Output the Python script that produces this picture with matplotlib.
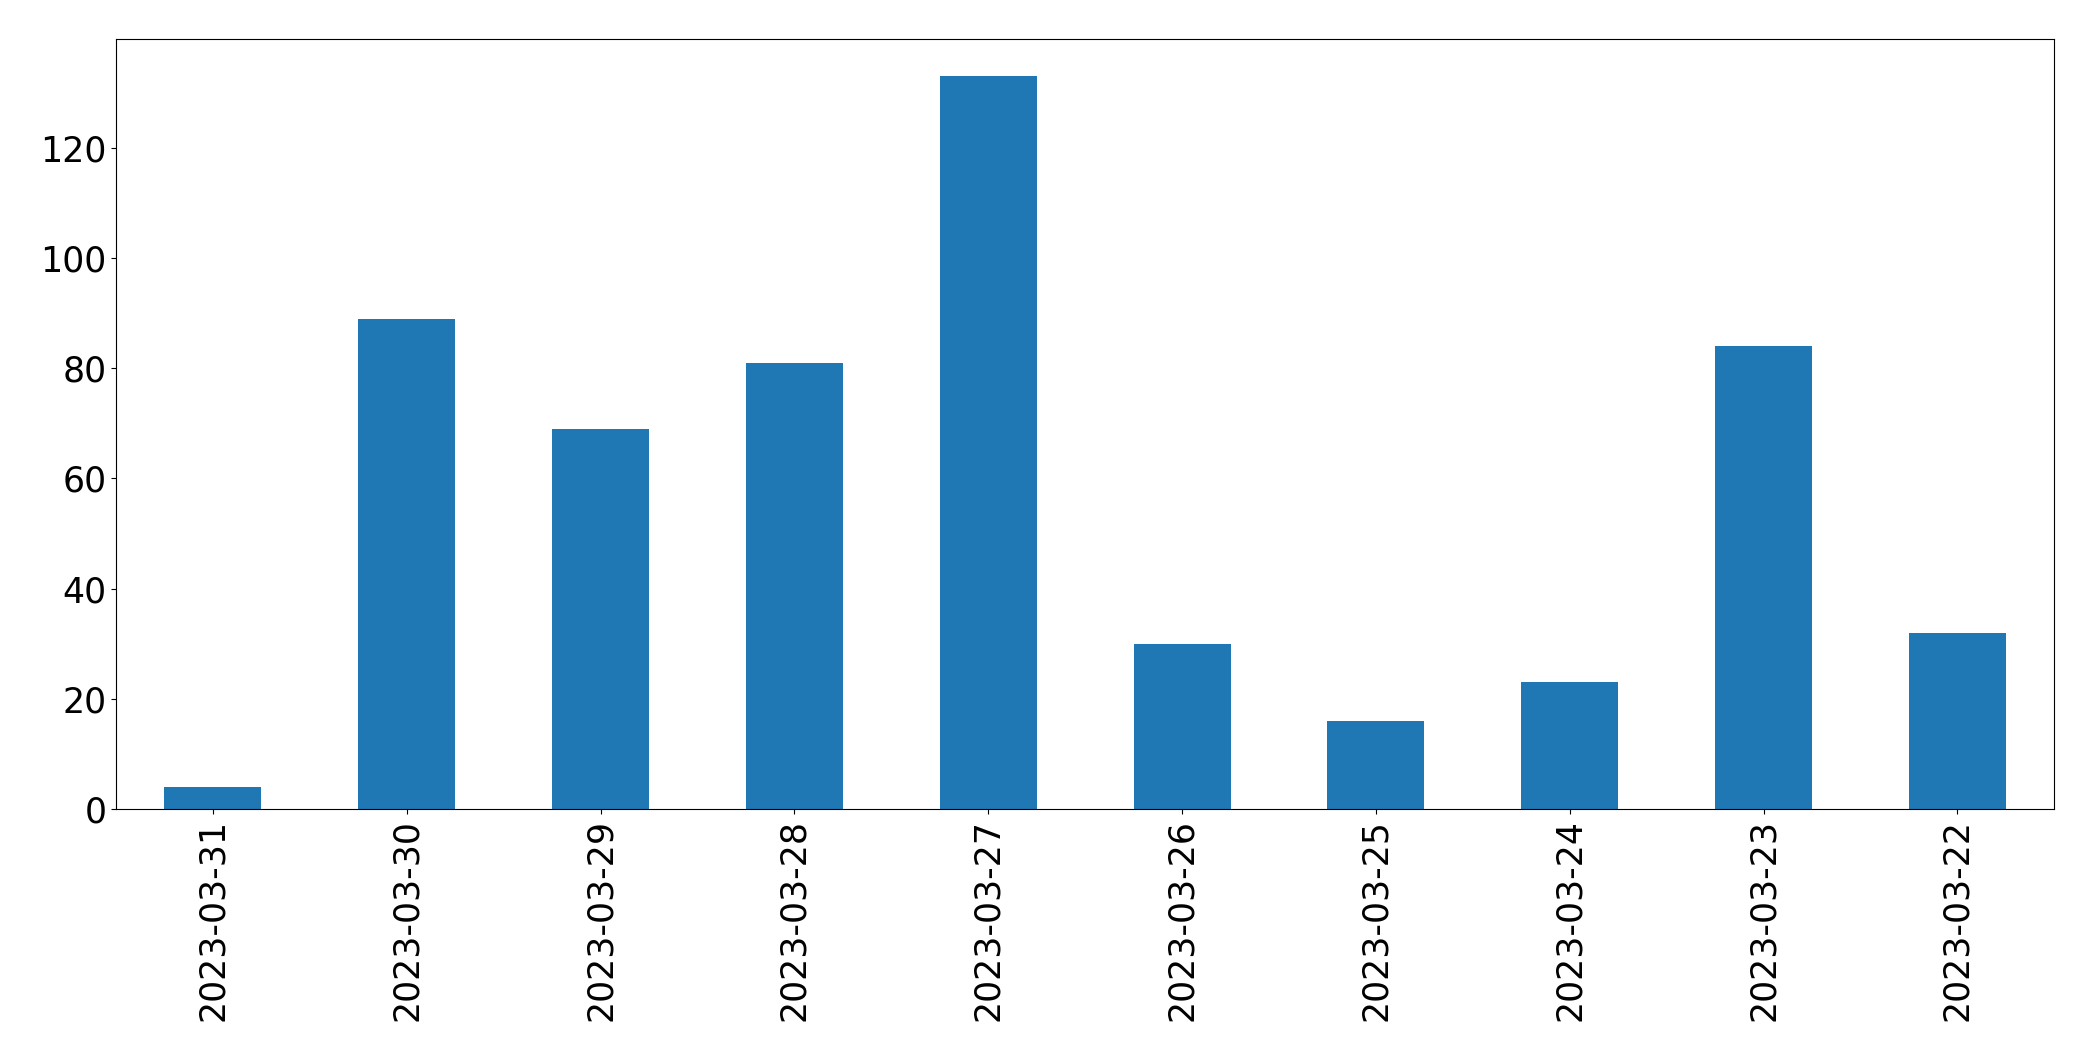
import matplotlib
matplotlib.use("Agg")
import matplotlib.pyplot as plt
import pandas as pd

dates = ["2023-03-31", "2023-03-30", "2023-03-29", "2023-03-28", "2023-03-27",
         "2023-03-26", "2023-03-25", "2023-03-24", "2023-03-23", "2023-03-22"]
counts = [4, 89, 69, 81, 133, 30, 16, 23, 84, 32]

fig = plt.figure(figsize=(20.93, 10.61), dpi=100)
ax = fig.add_axes([116 / 2093, 1 - 809.3 / 1061, (2054.3 - 116) / 2093, (809.3 - 39.3) / 1061])
s = pd.Series(counts, index=dates)
s.plot(kind="bar", ax=ax, color="#1f77b4")
ax.tick_params(axis="both", labelsize=25)
fig.savefig("out.png", dpi=100)
